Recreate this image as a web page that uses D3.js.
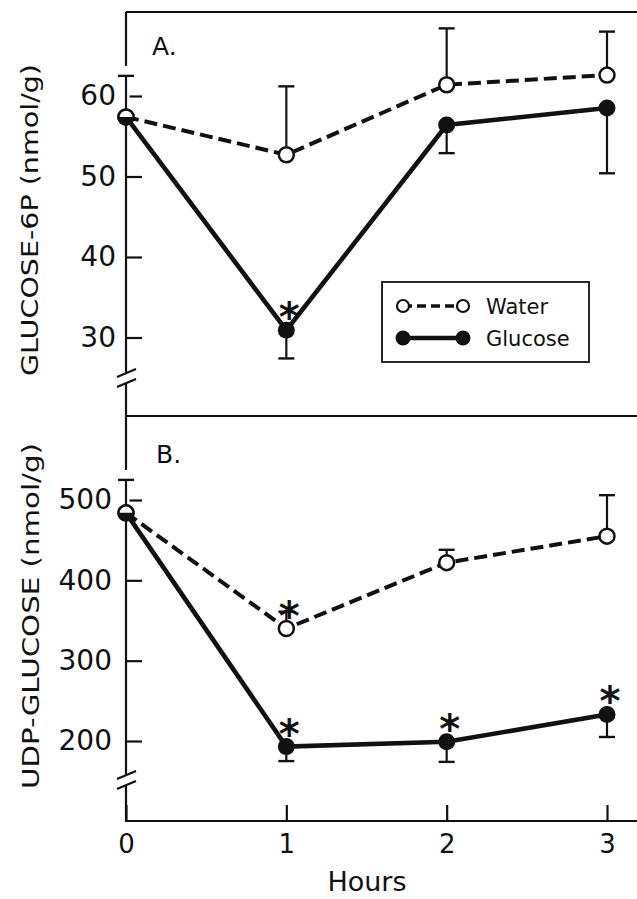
<!DOCTYPE html>
<html>
<head>
<meta charset="utf-8">
<script src="https://cdn.jsdelivr.net/npm/d3@7"></script>
<style>
  body { margin: 0; background: white; }
  svg { display: block; font-family: "DejaVu Sans", sans-serif; }
</style>
</head>
<body>
<div id="chart"></div>
<script>
// ---------- data ----------
const hours = [0, 1, 2, 3]

// panel A: glucose-6P (nmol/g)
const g6pWater = [57.4, 52.7, 61.4, 62.6]
const g6pWaterSem = [5.1, 8.5, 7.0, 5.4]      // drawn upward
const g6pGlucose = [57.4, 30.9, 56.4, 58.5]
const g6pGlucoseSem = [0, 3.5, 3.5, 8.1]      // drawn downward
const g6pWaterSig = [false, false, false, false]
const g6pGlucoseSig = [false, true, false, false]
const g6pTicks = [30, 40, 50, 60]

// panel B: UDP-glucose (nmol/g)
const udpWater = [484, 340, 422, 455]
const udpWaterSem = [41, 21, 16, 51]
const udpGlucose = [484, 193, 199, 233]
const udpGlucoseSem = [0, 18, 25, 28]
const udpWaterSig = [false, true, false, false]
const udpGlucoseSig = [false, true, true, true]
const udpTicks = [200, 300, 400, 500]

const seriesNames = ["Water", "Glucose"]

// ---------- layout ----------
const width = 637, height = 899
const left = 126, right = 637
const topA = 12, divider = 416, bottomB = 821

const svg = d3.select("#chart").append("svg")
  .attr("width", width).attr("height", height)

const x = d3.scaleLinear().domain([0, 3]).range([left, 607])
const yA = d3.scaleLinear().domain([30, 60]).range([337.5, 96])
const yB = d3.scaleLinear().domain([200, 500]).range([741, 500])

// frame lines
svg.append("line").attr("x1", left).attr("x2", right).attr("y1", topA).attr("y2", topA)
  .attr("stroke", "#111").attr("stroke-width", 2)
svg.append("line").attr("x1", left).attr("x2", right).attr("y1", divider).attr("y2", divider)
  .attr("stroke", "#111").attr("stroke-width", 2)

// vertical axis with a break
function axisWithBreak(y0, y1, yBreak){
  const g = svg.append("g").attr("stroke", "#111").attr("stroke-width", 2.2).attr("fill", "none")
  g.append("line").attr("x1", left).attr("x2", left).attr("y1", y0).attr("y2", yBreak - 5)
  g.append("line").attr("x1", left).attr("x2", left).attr("y1", yBreak + 5).attr("y2", y1)
  ;[-5, 5].forEach(off => {
    g.append("line")
      .attr("x1", left - 9).attr("y1", yBreak + off + 4)
      .attr("x2", left + 10).attr("y2", yBreak + off - 4)
  })
}
axisWithBreak(topA, divider, 378)
axisWithBreak(divider, bottomB, 780)

// y axes (inward ticks)
function yAxis(scale, ticks, pad){
  const g = svg.append("g").attr("transform", `translate(${left},0)`)
    .call(d3.axisLeft(scale).tickValues(ticks).tickSizeInner(-16).tickSizeOuter(0).tickPadding(pad))
  g.select(".domain").remove()
  g.selectAll(".tick line").attr("stroke", "#111").attr("stroke-width", 2.2)
  g.selectAll(".tick text").attr("font-size", 28).attr("fill", "#111")
    .attr("font-family", "DejaVu Sans")
}
yAxis(yA, g6pTicks, 10)
yAxis(yB, udpTicks, 14)

// x axis (bottom of panel B, ticks pointing up)
const gx = svg.append("g").attr("transform", `translate(0,${bottomB})`)
  .call(d3.axisBottom(x).tickValues(hours).tickFormat(d3.format("d"))
    .tickSizeInner(-16).tickSizeOuter(0).tickPadding(14))
gx.select(".domain").remove()
gx.selectAll(".tick line").attr("stroke", "#111").attr("stroke-width", 2.2)
gx.selectAll(".tick text").attr("font-size", 26).attr("fill", "#111").attr("font-family", "DejaVu Sans")
svg.append("line").attr("x1", left - 1).attr("x2", right).attr("y1", bottomB).attr("y2", bottomB)
  .attr("stroke", "#111").attr("stroke-width", 2.2)

// axis titles
svg.append("text").text("GLUCOSE-6P (nmol/g)")
  .attr("transform", "translate(38,220) rotate(-90)")
  .attr("text-anchor", "middle").attr("font-size", 23).attr("fill", "#111")
  .attr("textLength", 312).attr("lengthAdjust", "spacingAndGlyphs")
svg.append("text").text("UDP-GLUCOSE (nmol/g)")
  .attr("transform", "translate(39,616) rotate(-90)")
  .attr("text-anchor", "middle").attr("font-size", 23).attr("fill", "#111")
  .attr("textLength", 346).attr("lengthAdjust", "spacingAndGlyphs")
svg.append("text").text("Hours")
  .attr("x", 367).attr("y", 891).attr("text-anchor", "middle")
  .attr("font-size", 27).attr("fill", "#111")

// panel labels
svg.append("text").text("A.").attr("x", 152).attr("y", 55).attr("font-size", 25).attr("fill", "#111")
svg.append("text").text("B.").attr("x", 156).attr("y", 463).attr("font-size", 25).attr("fill", "#111")

// ---------- series ----------
function drawSeries(y, means, sems, sig, dir, dashed){
  const pts = hours.map((h, i) => ({h, v: means[i], e: sems[i], s: sig[i]}))
  const g = svg.append("g")

  // error bars (one direction)
  pts.filter(d => d.e > 0).forEach(d => {
    const yEnd = y(d.v + dir * d.e)
    g.append("line").attr("x1", x(d.h)).attr("x2", x(d.h))
      .attr("y1", y(d.v)).attr("y2", yEnd - dir * 10)
      .attr("stroke", "white").attr("stroke-width", 7)
    g.append("line").attr("x1", x(d.h)).attr("x2", x(d.h))
      .attr("y1", y(d.v)).attr("y2", yEnd)
      .attr("stroke", "#111").attr("stroke-width", 2.2)
    g.append("line").attr("x1", x(d.h) - 8).attr("x2", x(d.h) + 8)
      .attr("y1", yEnd).attr("y2", yEnd)
      .attr("stroke", "#111").attr("stroke-width", 2.4)
  })

  const line = d3.line().x(d => x(d.h)).y(d => y(d.v))
  g.append("path").datum(pts).attr("d", line)
    .attr("fill", "none").attr("stroke", "#111")
    .attr("stroke-width", dashed ? 4 : 4.6)
    .attr("stroke-dasharray", dashed ? "13,6" : null)

  // significance stars
  pts.filter(d => d.s).forEach(d => {
    g.append("text").text("*")
      .attr("x", x(d.h) + 3).attr("y", y(d.v) + 1)
      .attr("text-anchor", "middle").attr("font-size", 40).attr("font-weight", "bold")
      .attr("fill", "#111")
  })
  return pts
}

function drawPoints(y, pts, filled){
  pts.forEach((d, i) => {
    const cx = x(d.h), cy = y(d.v)
    if(i == 0){
      // time 0 shared by both groups: half open, half filled
      svg.append("circle").attr("cx", cx).attr("cy", cy).attr("r", 7.5)
        .attr("fill", "white").attr("stroke", "#111").attr("stroke-width", 2.5)
      svg.append("path")
        .attr("transform", `translate(${cx},${cy})`)
        .attr("d", d3.arc()({innerRadius: 0, outerRadius: 8.5, startAngle: Math.PI / 2, endAngle: 3 * Math.PI / 2}))
        .attr("fill", "#111")
      return
    }
    svg.append("circle").attr("cx", cx).attr("cy", cy).attr("r", filled ? 8.5 : 7.5)
      .attr("fill", filled ? "#111" : "white")
      .attr("stroke", "#111").attr("stroke-width", filled ? 0 : 2.5)
  })
}

const aWater = drawSeries(yA, g6pWater, g6pWaterSem, g6pWaterSig, 1, true)
const aGlu = drawSeries(yA, g6pGlucose, g6pGlucoseSem, g6pGlucoseSig, -1, false)
const bWater = drawSeries(yB, udpWater, udpWaterSem, udpWaterSig, 1, true)
const bGlu = drawSeries(yB, udpGlucose, udpGlucoseSem, udpGlucoseSig, -1, false)
drawPoints(yA, aWater, false)
drawPoints(yA, aGlu, true)
drawPoints(yB, bWater, false)
drawPoints(yB, bGlu, true)

// ---------- legend ----------
const legend = svg.append("g").attr("transform", "translate(382,282)")
legend.append("rect").attr("width", 207).attr("height", 80)
  .attr("fill", "white").attr("stroke", "#111").attr("stroke-width", 1.8)
seriesNames.forEach((name, i) => {
  const ly = 24 + i * 32
  const dashed = i == 0
  legend.append("line").attr("x1", 21).attr("x2", 81).attr("y1", ly).attr("y2", ly)
    .attr("stroke", "#111").attr("stroke-width", dashed ? 3.5 : 4.5)
    .attr("stroke-dasharray", dashed ? "9,5" : null)
  ;[21, 81].forEach(cx => {
    legend.append("circle").attr("cx", cx).attr("cy", ly).attr("r", dashed ? 6 : 7.5)
      .attr("fill", dashed ? "white" : "#111")
      .attr("stroke", "#111").attr("stroke-width", dashed ? 2.2 : 0)
  })
  legend.append("text").text(name).attr("x", 104).attr("y", ly + 8)
    .attr("font-size", 21).attr("fill", "#111")
})
</script>
</body>
</html>
